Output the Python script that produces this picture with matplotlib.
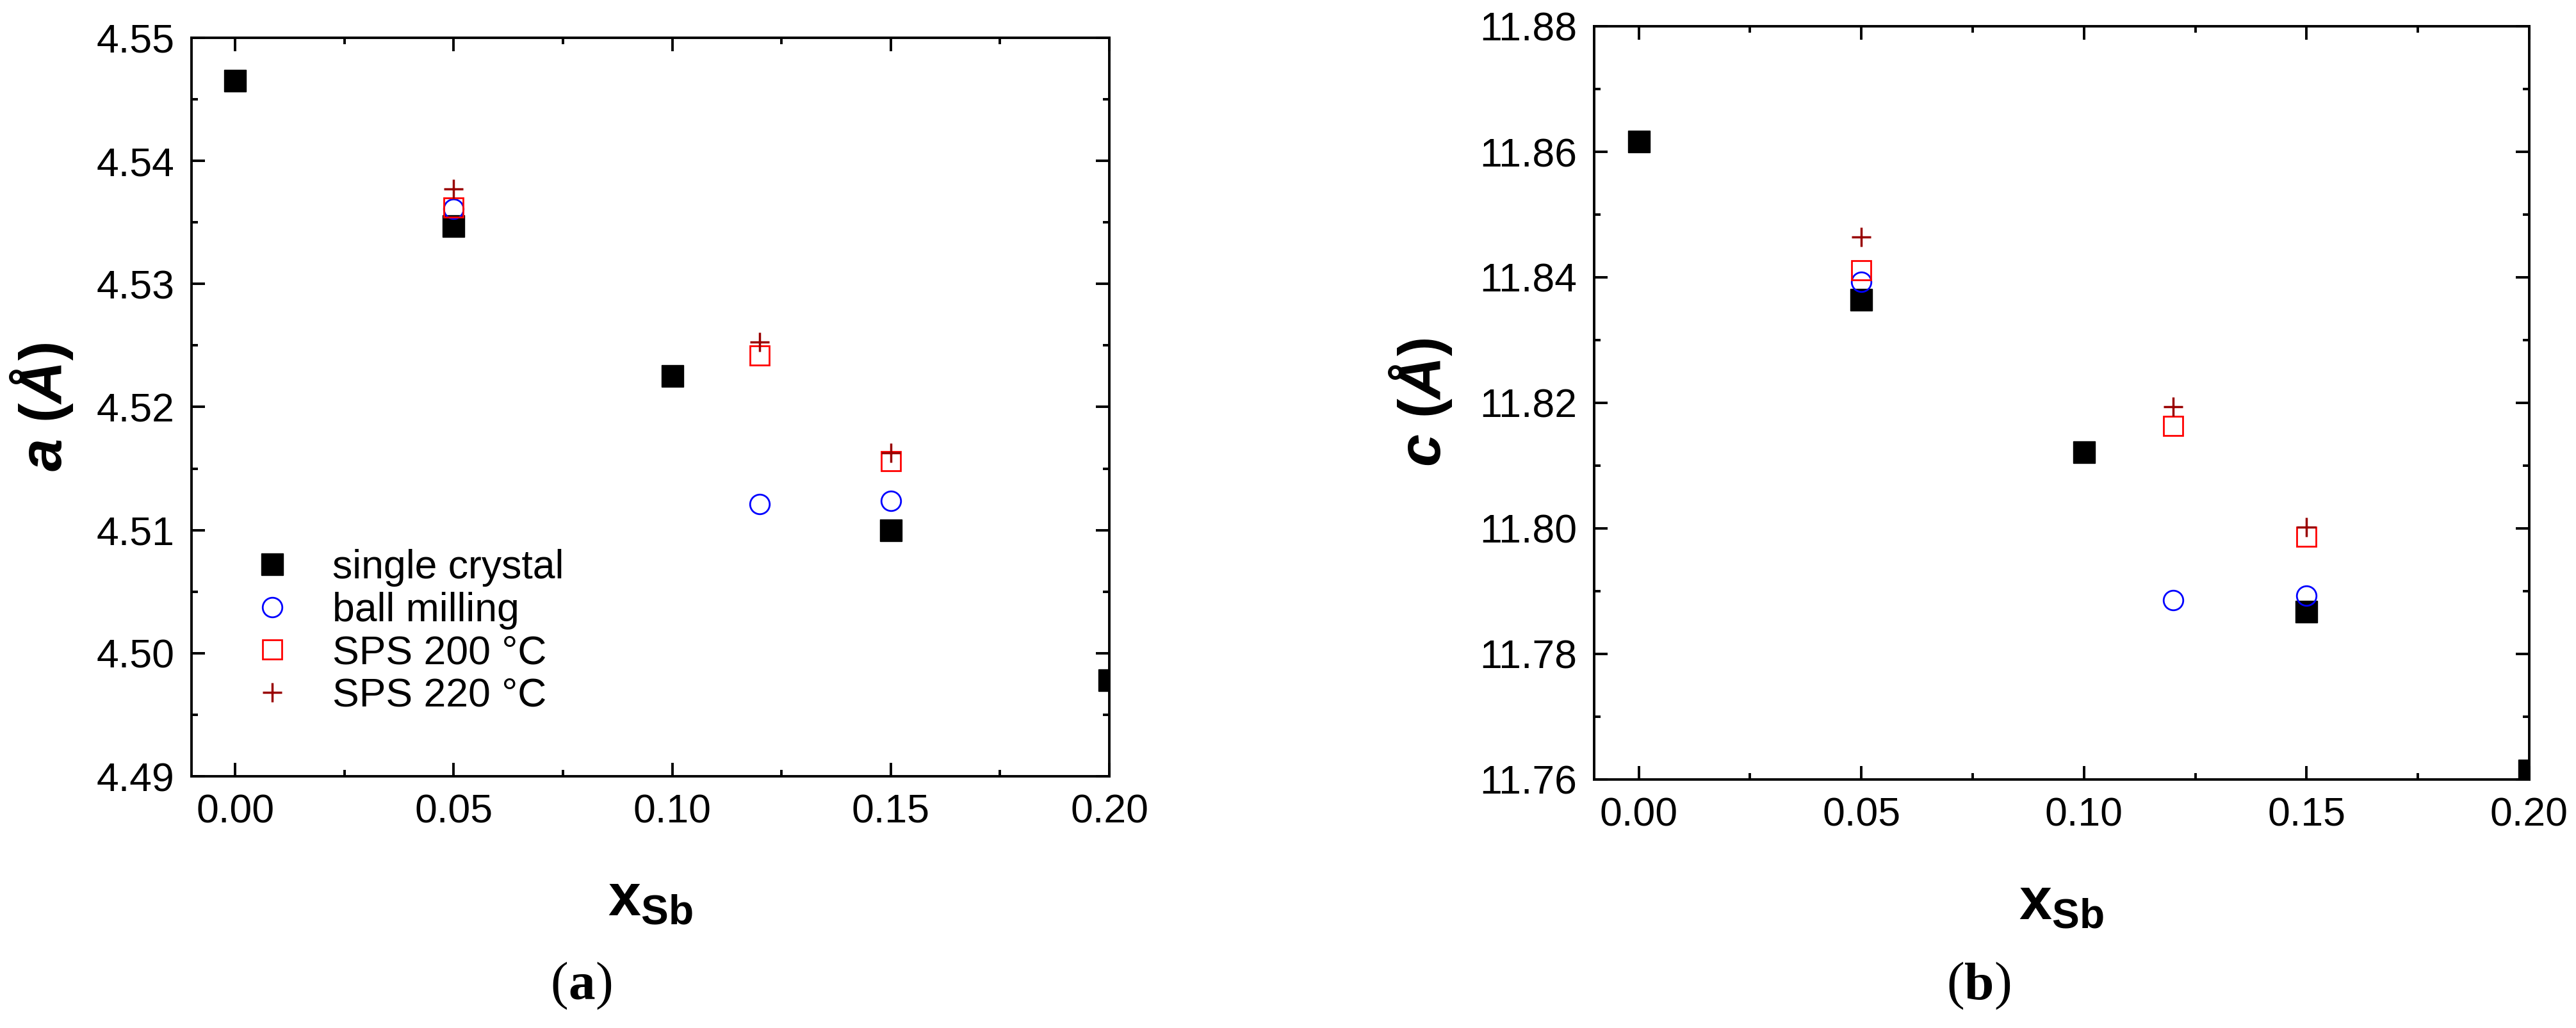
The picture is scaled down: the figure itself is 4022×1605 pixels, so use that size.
import numpy as np
import matplotlib
matplotlib.use("Agg")
import matplotlib.pyplot as plt
from matplotlib.ticker import MultipleLocator, FormatStrFormatter

plt.rcParams["font.family"] = ["Liberation Sans", "DejaVu Sans"]
plt.rcParams["mathtext.fontset"] = "custom"
plt.rcParams["mathtext.rm"] = "Liberation Sans"
plt.rcParams["mathtext.it"] = "Liberation Sans:italic"
plt.rcParams["mathtext.bf"] = "Liberation Sans:bold"
plt.rcParams["mathtext.bfit"] = "Liberation Sans:bold:italic"

# data
labels = ["single crystal", "ball milling", "SPS 200 °C", "SPS 220 °C"]

x_single = [0.00, 0.05, 0.10, 0.15, 0.20]
a_single = [4.5465, 4.5347, 4.5225, 4.5100, 4.4978]
c_single = [11.8616, 11.8364, 11.8121, 11.7867, 11.7614]

x_ball = [0.05, 0.12, 0.15]
a_ball = [4.5361, 4.5121, 4.5124]
c_ball = [11.8393, 11.7886, 11.7893]

x_sps200 = [0.05, 0.12, 0.15]
a_sps200 = [4.5362, 4.5242, 4.5156]
c_sps200 = [11.8411, 11.8163, 11.7987]

x_sps220 = [0.05, 0.12, 0.15]
a_sps220 = [4.5377, 4.5253, 4.5163]
c_sps220 = [11.8464, 11.8194, 11.8002]

xticks = [0.00, 0.05, 0.10, 0.15, 0.20]

styles = [
    dict(marker="s", color="black", ms=24, ls="none"),
    dict(marker="o", mfc="none", mec="blue", ms=22, mew=2, ls="none"),
    dict(marker="s", mfc="none", mec="red", ms=22, mew=2, ls="none"),
    dict(marker="+", color="#990000", ms=22, mew=2.5, ls="none"),
]

W, H = 4022, 1605
fig = plt.figure(figsize=(W / 100, H / 100), dpi=100)
ax1 = fig.add_axes([299 / W, 1 - 1212 / H, 1433 / W, 1153 / H])
ax2 = fig.add_axes([2489 / W, 1 - 1217 / H, 1460 / W, 1176 / H])

series_a = [(x_single, a_single), (x_ball, a_ball), (x_sps200, a_sps200), (x_sps220, a_sps220)]
series_c = [(x_single, c_single), (x_ball, c_ball), (x_sps200, c_sps200), (x_sps220, c_sps220)]

for (xs, ys), st, lab in zip(series_a, styles, labels):
    ax1.plot(xs, ys, label=lab, **st)
for (xs, ys), st, lab in zip(series_c, styles, labels):
    ax2.plot(xs, ys, label=lab, **st)


def style_axes(ax, ylim, ymajor, yminor):
    ax.set_xlim(-0.01, 0.20)
    ax.set_ylim(*ylim)
    ax.set_xticks(xticks)
    ax.xaxis.set_minor_locator(MultipleLocator(0.025))
    ax.yaxis.set_major_locator(MultipleLocator(ymajor))
    ax.yaxis.set_minor_locator(MultipleLocator(yminor))
    ax.xaxis.set_major_formatter(FormatStrFormatter("%.2f"))
    ax.yaxis.set_major_formatter(FormatStrFormatter("%.2f"))
    ax.tick_params(which="both", direction="in", top=True, right=True,
                   width=2.8, labelsize=45, pad=19)
    ax.tick_params(which="major", length=15)
    ax.tick_params(which="minor", length=7.5)
    for sp in ax.spines.values():
        sp.set_linewidth(2.8)


style_axes(ax1, (4.49, 4.55), 0.01, 0.005)
style_axes(ax2, (11.76, 11.88), 0.02, 0.01)

ax1.set_ylabel(r"$\mathbfit{a}$ $\mathbf{(}\mathbfit{Å}\mathbf{)}$", fontsize=66)
ax2.set_ylabel(r"$\mathbfit{c}$ $\mathbf{(}\mathbfit{Å}\mathbf{)}$", fontsize=66)
ax1.yaxis.set_label_coords(-0.127, 0.5)
ax2.yaxis.set_label_coords(-0.150, 0.5)

ax1.set_xlabel(r"$\mathbf{x}_{\mathbf{Sb}}$", fontsize=66)
ax2.set_xlabel(r"$\mathbf{x}_{\mathbf{Sb}}$", fontsize=66)
ax1.xaxis.set_label_coords(0.5, -0.130)
ax2.xaxis.set_label_coords(0.5, -0.128)

ax1.legend(loc="center left", bbox_to_anchor=(0.0663, 0.1956), frameon=False,
           fontsize=45, handlelength=1.0, handletextpad=1.0, labelspacing=0.12,
           borderpad=0, borderaxespad=0)


def panel_tag(xc, letter):
    # bold letter between regular parentheses, e.g. (a)
    t = fig.text(xc / W, 1 - 1540 / H, letter, fontsize=60, fontweight="bold",
                 family="Liberation Serif", ha="center", va="center")
    ax1.annotate("(", xy=(0, 0), xycoords=t, ha="right", va="bottom",
                 fontsize=60, family="Liberation Serif", annotation_clip=False)
    ax1.annotate(")", xy=(1, 0), xycoords=t, ha="left", va="bottom",
                 fontsize=60, family="Liberation Serif", annotation_clip=False)


panel_tag(908, "a")
panel_tag(3090, "b")

fig.savefig("out.png", dpi=100)
